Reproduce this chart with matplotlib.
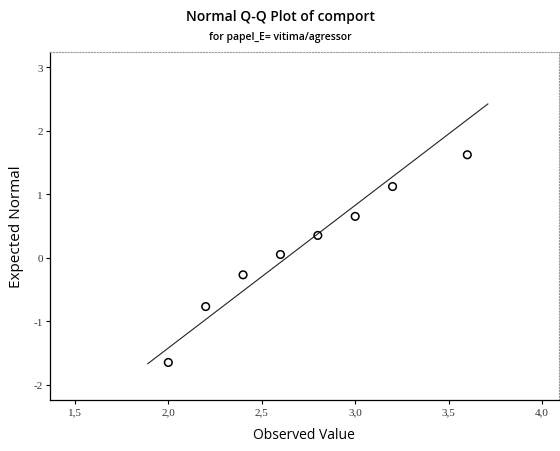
import matplotlib.pyplot as plt
from matplotlib.ticker import FixedLocator

# observed values and expected normal scores
observed = [2.0, 2.2, 2.4, 2.6, 2.8, 3.0, 3.2, 3.6]
expected = [-1.65, -0.77, -0.27, 0.05, 0.35, 0.65, 1.12, 1.62]

# reference line end points
line_x = [1.89, 3.71]
line_y = [-1.67, 2.42]

x_ticks = [1.5, 2.0, 2.5, 3.0, 3.5, 4.0]
x_tick_labels = ["1,5", "2,0", "2,5", "3,0", "3,5", "4,0"]
y_ticks = [-2, -1, 0, 1, 2, 3]
y_tick_labels = ["-2", "-1", "0", "1", "2", "3"]

fig = plt.figure(figsize=(5.6, 4.52), dpi=100)
ax = fig.add_axes([0.089, 0.113, 0.909, 0.77])

ax.plot(line_x, line_y, color="#222222", linewidth=0.8, zorder=2)
ax.scatter(observed, expected, s=30, facecolors="none", edgecolors="black",
           linewidths=1.1, zorder=3)

ax.set_xlim(1.366, 4.09)
ax.set_ylim(-2.24, 3.24)

ax.xaxis.set_major_locator(FixedLocator(x_ticks))
ax.set_xticklabels(x_tick_labels, family="Liberation Serif", fontsize=8, color="#333333")
ax.yaxis.set_major_locator(FixedLocator(y_ticks))
ax.set_yticklabels(y_tick_labels, family="Liberation Serif", fontsize=8, color="#333333")
ax.tick_params(direction="out", length=3, width=0.8, pad=2, color="black")

for side in ["top", "right"]:
    ax.spines[side].set_color("#999999")
    ax.spines[side].set_linestyle(":")
    ax.spines[side].set_linewidth(0.8)
for side in ["left", "bottom"]:
    ax.spines[side].set_color("black")
    ax.spines[side].set_linewidth(0.9)

ax.set_xlabel("Observed Value", family="Open Sans", fontsize=10, labelpad=8)
ax.set_ylabel("Expected Normal", family="Open Sans", fontsize=11, labelpad=7)

fig.text(0.5, 0.962, "Normal Q-Q Plot of comport", ha="center", va="center",
         family="Open Sans", fontsize=10, fontweight="semibold")
fig.text(0.5, 0.916, "for papel_E= vitima/agressor", ha="center", va="center",
         family="Open Sans", fontsize=7.5, fontweight="semibold")

fig.savefig("out.png", dpi=100)
